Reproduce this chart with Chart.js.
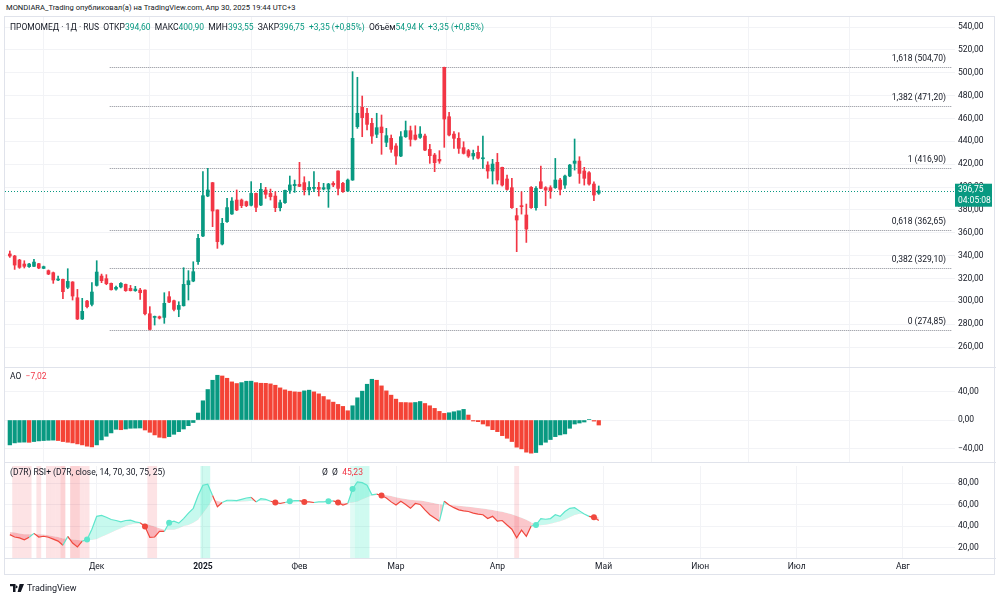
<!DOCTYPE html>
<html>
<head>
<meta charset="utf-8">
<script src="https://cdn.jsdelivr.net/npm/chart.js@4.4.1/dist/chart.umd.min.js"></script>
<style>
  body { margin: 0; width: 1000px; height: 598px; background: #fff; position: relative; overflow: hidden;
         font-family: Roboto, "Liberation Sans", sans-serif; color: #131722; }
  canvas { position: absolute; left: 0; }
  .frame { position: absolute; left: 4px; top: 16px; width: 991px; height: 559px; border: 1px solid #e0e3eb; box-sizing: border-box; }
  .sep { position: absolute; left: 4px; width: 992px; height: 1px; background: #e0e3eb; }
  .txt { position: absolute; font-size: 8.5px; white-space: nowrap; line-height: 10px; }
  .up { color: #089981; }
  .dn { color: #f23645; }
  .foot { position: absolute; left: 10px; top: 583px; font-size: 9px; display: flex; align-items: center; gap: 3px; }
</style>
</head>
<body>
<div class="txt" style="left:6px;top:3px;font-size:7.6px;">MONDIARA_Trading опубликовал(а) на TradingView.com, Апр 30, 2025 19:44 UTC+3</div>
<div class="frame"></div>
<canvas id="price" width="1000" height="350" style="top:17px"></canvas>
<canvas id="ao" width="1000" height="95" style="top:367px"></canvas>
<canvas id="rsi" width="1000" height="114" style="top:462px"></canvas>
<div class="sep" style="top:367px"></div>
<div class="sep" style="top:462px"></div>
<div class="sep" style="top:558px"></div>
<div class="txt" style="left:10px;top:22px;">ПРОМОМЕД · 1Д · RUS&nbsp;&nbsp;ОТКР<span class="up">394,60</span>&nbsp;&nbsp;МАКС<span class="up">400,90</span>&nbsp;&nbsp;МИН<span class="up">393,55</span>&nbsp;&nbsp;ЗАКР<span class="up">396,75</span>&nbsp;&nbsp;<span class="up">+3,35 (+0,85%)</span>&nbsp;&nbsp;Объём<span class="up">54,94 K</span>&nbsp;&nbsp;<span class="up">+3,35 (+0,85%)</span></div>
<div class="txt" style="left:10px;top:371px;">AO&nbsp;&nbsp;<span class="dn">−7,02</span></div>
<div class="txt" style="left:10px;top:467px;">(D7R) RSI+ (D7R, close, 14, 70, 30, 75, 25)</div>
<div class="txt" style="left:322px;top:467px;">Ø&nbsp;&nbsp;Ø&nbsp;&nbsp;<span class="dn">45,23</span></div>
<div class="foot">
  <svg width="14" height="8" viewBox="0 0 14 8"><path d="M0 0h5.5v8H3V2.3H0z M6.3 1.6a1.3 1.3 0 1 0 0.01 0z M9.6 0H14L10.8 8H7.6z" fill="#131722"/></svg>
  <span>TradingView</span>
</div>

<script>
  var FONT = 'Roboto, "Liberation Sans", sans-serif';
  var UP = '#089981', DOWN = '#f23645';

  // ---- data, bar index 0 = first visible candle ----
  var opens = [341.4,339.6,336.1,332.6,330.3,330.6,332.9,328.8,326.8,325.0, 318.6,319.2,312.2,316.9,303.1,284.5,300.2,297.3,313.9,322.1,
    319.8,315.7,310.7,312.5,314.8,311.3,309.3,309.8,309.8,289.1, 285.9,286.5,285.9,304.0,300.5,292.9,296.1,314.5,317.7,334.7,
    357.1,392.1,403.8,379.9,350.1,369.7,376.4,388.6,388.6,387.2, 384.0,394.4,384.2,397.4,394.4,392.1,381.9,386.3,397.1,401.2,
    402.3,403.8,397.4,398.8,399.7,398.2,398.2,403.2,414.0,403.2, 396.5,406.1,452.8,469.7,464.5,455.7,446.1,452.5,439.1,442.6,
    435.9,427.1,444.0,449.3,445.5,443.4,444.6,432.9,428.0,424.2, 504.7,461.5,446.3,442.6,434.4,431.8,427.1,430.3,424.7,419.2,
    414.0,421.6,417.2,407.0,399.4,374.9,383.6,375.5,399.7,381.9, 404.6,399.4,399.4,399.4,406.1,401.7,409.6,420.7,422.7,414.0,
    412.5,402.6,394.6];
  var highs = [344.0,340.2,336.7,335.5,333.2,336.7,333.2,330.8,327.4,325.6, 322.1,319.5,328.5,317.2,310.4,302.6,300.8,316.3,335.5,323.8,
    323.3,316.0,313.3,316.3,315.1,313.9,313.1,311.3,310.0,295.3, 287.1,287.1,307.5,308.4,301.1,299.6,329.4,326.8,334.6,358.6,
    413.4,416.3,404.0,380.0,372.6,390.1,390.7,397.4,389.5,387.7, 404.7,394.6,403.2,399.7,398.2,395.9,388.6,397.4,409.6,406.1,
    421.6,409.0,404.7,413.4,404.1,403.2,403.2,404.7,414.2,404.1, 407.0,500.9,496.0,479.6,468.8,460.1,464.5,463.0,451.3,445.5,
    437.9,448.4,457.7,453.3,453.6,452.8,446.3,437.3,429.4,431.8, 504.9,465.3,448.4,447.5,439.6,432.9,432.3,435.8,444.6,422.1,
    424.2,429.4,417.4,410.5,407.6,381.3,395.9,385.1,400.3,400.3, 418.3,400.3,401.1,425.0,407.6,410.5,419.8,442.0,426.5,417.2,
    413.4,404.6,400.9];
  var lows = [338.4,327.9,328.8,329.1,329.7,330.3,328.5,328.5,323.3,315.7, 318.0,302.3,311.0,301.1,284.0,284.0,294.1,295.9,313.3,316.3,
    314.5,309.8,309.8,311.6,308.7,309.0,308.7,301.7,288.0,274.9, 279.2,284.5,280.7,298.8,291.5,286.5,295.8,301.1,317.1,332.3,
    356.5,391.5,365.3,346.3,349.3,369.1,376.0,379.3,381.9,382.8, 383.4,378.4,383.7,390.1,388.6,378.4,379.0,385.7,394.4,395.3,
    400.3,393.0,393.0,395.9,392.1,397.4,382.2,400.3,393.0,395.3, 395.9,405.8,451.3,444.0,449.9,438.2,443.2,428.6,435.3,430.3,
    419.8,426.5,443.4,435.8,441.1,442.6,431.8,420.7,413.4,420.7, 434.7,444.6,433.8,429.4,428.8,425.9,424.2,424.5,416.3,407.6,
    402.6,402.6,400.8,397.3,381.3,343.4,376.3,351.5,381.3,379.8, 398.5,383.6,390.1,398.8,393.0,398.8,409.0,414.8,403.2,401.7,
    401.7,388.0,393.55];
  var closes = [339.6,331.7,329.7,330.6,332.6,334.3,329.1,330.3,323.8,318.6, 319.5,308.4,317.4,304.6,284.5,291.2,295.3,308.1,325.6,318.0,
    315.4,310.1,312.2,315.7,309.3,309.3,310.7,307.5,289.1,275.4, 286.5,285.3,298.2,299.3,292.9,296.4,314.8,318.0,325.9,355.1,
    392.4,397.4,379.0,352.2,368.2,382.0,387.7,379.9,383.7,383.7, 394.4,382.2,398.0,393.6,391.5,381.9,386.3,397.1,401.8,402.3,
    400.6,397.4,399.7,399.7,398.0,399.4,402.6,401.8,398.8,395.9, 406.1,442.6,464.5,460.7,454.8,444.6,451.9,447.5,444.9,433.0,
    427.1,444.0,449.3,441.7,441.7,446.3,432.3,427.4,421.3,422.7, 459.5,445.5,442.6,433.8,429.4,427.1,429.4,425.3,425.0,414.0,
    420.1,406.1,401.7,397.9,381.9,371.1,382.8,363.2,381.9,398.8, 398.8,397.3,396.8,406.1,397.9,409.6,419.2,422.7,411.9,407.6,
    402.6,393.0,396.75];

  var aoValues = [-34.9,-32.1,-31.2,-31.0,-31.3,-30.2,-29.3,-28.8,-28.4,-28.2, -28.8,-30.2,-31.2,-32.1,-33.5,-34.9,-36.7,-37.7,-34.9,-27.9,
    -22.8,-18.1,-13.0,-13.6,-12.6,-11.6,-11.4,-11.2,-14.0,-17.2, -20.9,-24.2,-25.1,-23.3,-20.0,-16.3,-12.6,-7.9,-3.5,9.8,
    27.0,42.8,55.8,62.8,61.8,58.6,53.5,51.2,52.5,54.4, 54.5,52.5,51.6,51.5,50.7,48.8,45.1,42.3,40.5,39.5,
    39.1,40.9,41.9,39.5,36.7,33.0,28.4,25.1,21.9,19.1, 13.0,20.0,31.2,40.5,50.2,57.2,55.8,47.9,40.9,34.9,
    29.3,24.6,24.5,24.2,24.6,26.0,23.2,20.0,16.3,12.1, 9.3,10.2,11.6,13.0,14.9,7.0,-1.4,-2.3,-5.6,-8.4,
    -13.5,-16.3,-21.9,-25.6,-30.2,-38.1,-40.5,-45.1,-46.5,-45.6, -34.9,-31.2,-27.4,-23.3,-20.9,-19.5,-11.6,-5.6,-4.2,-2.8,
    0.8,-1.5,-7.02];

  var rsiValues = [32.0,29.8,29.0,27.2,29.5,33.2,29.8,30.5,29.6,27.8, 26.0,22.1,30.3,24.2,20.6,26.0,27.5,37.1,49.1,50.0,
    48.2,46.1,45.2,44.0,45.2,45.5,44.0,43.1,39.5,29.5, 29.8,35.0,35.0,43.1,44.6,42.8,47.0,52.1,56.6,68.6,
    78.2,79.1,68.6,58.1,62.0,64.1,64.1,63.8,65.0,66.2, 66.8,62.6,65.6,65.0,63.2,62.0,61.1,62.0,63.2,63.8,
    63.8,62.6,62.6,62.0,62.6,62.6,63.2,63.5,62.0,59.6, 61.1,74.6,81.2,80.6,78.2,69.2,69.8,68.6,66.2,62.6,
    59.6,63.2,60.2,56.6,61.1,60.2,55.1,50.6,47.6,44.6, 63.2,59.6,57.2,55.1,54.2,53.6,52.1,51.2,50.6,47.0,
    49.1,44.6,45.2,41.0,37.1,29.0,36.2,30.5,40.1,41.0, 47.0,46.4,47.0,50.6,49.1,53.6,56.6,57.2,54.2,51.2,
    49.1,48.2,45.23];
  var rsiMa = [34.5,33.9,33.0,32.4,32.4,32.4,32.4,32.1,31.4,30.5, 29.9,28.4,28.1,27.5,26.9,26.6,26.9,27.0,28.0,30.0,
    32.0,34.0,36.0,38.0,40.0,41.5,42.5,42.5,42.5,41.0, 39.5,38.0,36.5,36.5,36.5,38.0,40.0,41.0,43.0,46.0,
    52.0,58.0,65.0,63.5,62.5,62.5,62.6,62.8,63.0,63.2, 63.5,63.5,63.5,63.5,63.2,62.6,62.0,62.2,62.0,62.3,
    62.6,62.8,62.7,62.4,62.4,62.5,62.5,62.7,62.5,61.9, 61.6,62.0,63.0,65.0,67.0,68.5,69.0,69.2,68.8,68.0,
    67.0,66.0,65.2,64.5,64.2,63.8,63.2,62.3,61.4,60.5, 60.0,59.8,59.5,59.0,58.5,58.0,57.5,57.0,56.4,55.8,
    55.0,54.2,53.3,52.3,51.0,49.5,47.8,46.0,43.5,40.7, 40.7,41.3,42.2,43.4,44.6,46.1,48.2,50.3,51.5,51.0,
    49.0,48.8,48.3];
  var crossUp = [16, 33, 58, 66, 71, 109];
  var crossDown = [28, 55, 61, 68, 77, 121];

  var fibValues = [504.70, 471.20, 416.90, 362.65, 329.10, 274.85];
  var fibLabels = ['1,618 (504,70)', '1,382 (471,20)', '1 (416,90)', '0,618 (362,65)', '0,382 (329,10)', '0 (274,85)'];
  var fibStart = 20.7;
  var lastPrice = 396.75;

  var monthIdx = [18, 40, 60, 80, 101, 123, 143, 163, 185];
  var monthLabels = ['Дек', '2025', 'Фев', 'Мар', 'Апр', 'Май', 'Июн', 'Июл', 'Авг'];
  var priceTicks = [260, 280, 300, 320, 340, 360, 380, 400, 420, 440, 460, 480, 500, 520, 540];
  var aoTicks = [-40, 0, 40];
  var rsiTicks = [20, 40, 60, 80];

  var xMin = -1, xMax = 195.8;

  function fmt(v) {
    return (v < 0 ? '−' : '') + Math.abs(v).toFixed(2).replace('.', ',');
  }

  function xAxis(showLabels) {
    return {
      type: 'linear', min: xMin, max: xMax, offset: false,
      grid: { color: '#f2f3f6', drawTicks: false },
      border: { display: false },
      ticks: {
        display: showLabels, autoSkip: false, maxRotation: 0, padding: 4, color: '#131722',
        font: function (c) {
          return { family: FONT, size: 8.5, weight: monthLabels[c.index] === '2025' ? 'bold' : 'normal' };
        },
        callback: function (v, i) { return monthLabels[i]; }
      },
      afterBuildTicks: function (s) { s.ticks = monthIdx.map(function (v) { return { value: v }; }); },
      afterFit: function (s) {
        s.height = showLabels ? 18 : 0;
        s.paddingLeft = 0; s.paddingRight = 0; s.paddingTop = 0; s.paddingBottom = 0;
      }
    };
  }

  function yAxis(min, max, ticks) {
    return {
      position: 'right', min: min, max: max,
      grid: { color: '#f2f3f6', drawTicks: false },
      border: { display: false },
      ticks: { color: '#131722', padding: 3, font: { family: FONT, size: 8.5 }, callback: function (v) { return fmt(v); } },
      afterBuildTicks: function (s) { s.ticks = ticks.map(function (v) { return { value: v }; }); },
      afterFit: function (s) {
        s.width = 41;
        s.paddingTop = 0; s.paddingBottom = 0; s.paddingLeft = 0; s.paddingRight = 0;
      }
    };
  }

  function baseOptions(x, y) {
    return {
      responsive: false, animation: false, events: [],
      layout: { padding: { left: 5, right: 4, top: 0, bottom: 0 } },
      plugins: { legend: { display: false }, tooltip: { enabled: false } },
      scales: { x: x, y: y }
    };
  }

  function candleColor(c) {
    var i = c.dataIndex;
    return closes[i] >= opens[i] ? UP : DOWN;
  }

  // Fib levels, last price line and price tag
  var priceOverlay = {
    id: 'priceOverlay',
    beforeDatasetsDraw: function (chart) {
      var ctx = chart.ctx, a = chart.chartArea, x = chart.scales.x, y = chart.scales.y;
      ctx.save();
      ctx.lineWidth = 1;
      ctx.strokeStyle = '#8a8d96';
      ctx.setLineDash([1, 1]);
      var x0 = x.getPixelForValue(fibStart);
      fibValues.forEach(function (v) {
        var py = Math.round(y.getPixelForValue(v)) + 0.5;
        ctx.beginPath(); ctx.moveTo(x0, py); ctx.lineTo(a.right - 3, py); ctx.stroke();
      });
      ctx.strokeStyle = UP;
      ctx.setLineDash([1, 2]);
      var ly = Math.round(y.getPixelForValue(lastPrice)) + 0.5;
      ctx.beginPath(); ctx.moveTo(a.left, ly); ctx.lineTo(a.right, ly); ctx.stroke();
      ctx.restore();
    },
    afterDraw: function (chart) {
      var ctx = chart.ctx, a = chart.chartArea, y = chart.scales.y;
      ctx.save();
      ctx.font = '8.5px ' + FONT;
      ctx.fillStyle = '#131722';
      ctx.textAlign = 'right';
      ctx.textBaseline = 'middle';
      fibValues.forEach(function (v, i) {
        ctx.fillText(fibLabels[i], a.right - 9, y.getPixelForValue(v) - 8);
      });
      var ty = y.getPixelForValue(lastPrice);
      ctx.fillStyle = UP;
      ctx.fillRect(a.right, ty - 7, 37, 23);
      ctx.fillStyle = '#fff';
      ctx.textAlign = 'left';
      ctx.fillText(fmt(lastPrice), a.right + 3, ty - 1);
      ctx.fillText('04:05:08', a.right + 3, ty + 10);
      ctx.restore();
    }
  };

  new Chart(document.getElementById('price'), {
    type: 'bar',
    data: {
      datasets: [
        {
          data: opens.map(function (o, i) { return { x: i, y: [o, closes[i]] }; }),
          backgroundColor: candleColor, borderWidth: 0, barThickness: 3, minBarLength: 1, grouped: false
        },
        {
          data: lows.map(function (l, i) { return { x: i, y: [l, highs[i]] }; }),
          backgroundColor: candleColor, borderWidth: 0, barThickness: 1, grouped: false
        }
      ]
    },
    options: baseOptions(xAxis(false), yAxis(242.5, 548.75, priceTicks)),
    plugins: [priceOverlay]
  });

  new Chart(document.getElementById('ao'), {
    type: 'bar',
    data: {
      datasets: [{
        data: aoValues.map(function (v, i) { return { x: i, y: v }; }),
        backgroundColor: function (c) {
          var i = c.dataIndex;
          return (i === 0 || aoValues[i] >= aoValues[i - 1]) ? UP : '#f44336';
        },
        borderWidth: 0, barThickness: 3.6
      }]
    },
    options: baseOptions(xAxis(false), yAxis(-58.9, 74.4, aoTicks))
  });

  // Overbought / oversold background columns
  var rsiZones = {
    id: 'rsiZones',
    beforeDatasetsDraw: function (chart) {
      var ctx = chart.ctx, a = chart.chartArea, x = chart.scales.x;
      ctx.save();
      rsiValues.forEach(function (v, i) {
        var x0 = x.getPixelForValue(i - 0.5), x1 = x.getPixelForValue(i + 0.5);
        var layers = [];
        if (v > 70) layers.push('rgba(60, 232, 195, 0.16)');
        if (v > 75) layers.push('rgba(60, 232, 195, 0.10)');
        if (v < 30) layers.push('rgba(242, 54, 69, 0.14)');
        if (v < 25) layers.push('rgba(242, 54, 69, 0.10)');
        layers.forEach(function (c) {
          ctx.fillStyle = c;
          ctx.fillRect(x0, a.top, x1 - x0, a.bottom - a.top);
        });
      });
      ctx.restore();
    }
  };

  var RSI_UP = '#5ee6cc', RSI_DN = '#f0483e';

  new Chart(document.getElementById('rsi'), {
    type: 'line',
    data: {
      datasets: [
        {
          data: crossUp.map(function (i) { return { x: i, y: rsiValues[i] }; }),
          showLine: false, pointRadius: 3, pointBackgroundColor: RSI_UP, pointBorderWidth: 0, order: 0
        },
        {
          data: crossDown.map(function (i) { return { x: i, y: rsiValues[i] }; }),
          showLine: false, pointRadius: 3, pointBackgroundColor: RSI_DN, pointBorderWidth: 0, order: 0
        },
        {
          data: rsiValues.map(function (v, i) { return { x: i, y: v }; }),
          borderWidth: 1.2, pointRadius: 0, borderColor: RSI_DN,
          segment: {
            borderColor: function (c) {
              var i = c.p1DataIndex;
              return rsiValues[i] >= rsiMa[i] ? RSI_UP : RSI_DN;
            }
          },
          fill: { target: 3, above: 'rgba(70, 235, 200, 0.30)', below: 'rgba(242, 54, 69, 0.28)' },
          order: 1
        },
        {
          data: rsiMa.map(function (v, i) { return { x: i, y: v }; }),
          borderWidth: 0, borderColor: 'rgba(0,0,0,0)', pointRadius: 0, fill: false, order: 2
        }
      ]
    },
    options: baseOptions(xAxis(true), yAxis(10.2, 96.1, rsiTicks)),
    plugins: [rsiZones]
  });
</script>
</body>
</html>
